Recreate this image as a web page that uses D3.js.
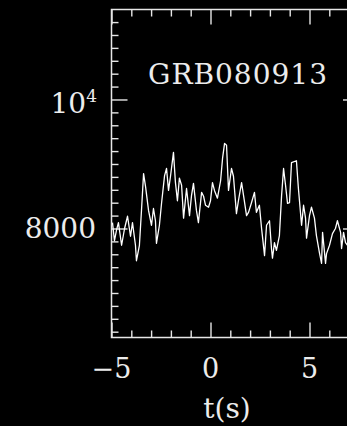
<!DOCTYPE html>
<html>
<head>
<meta charset="utf-8">
<script src="https://cdn.jsdelivr.net/npm/d3@7/dist/d3.min.js"></script>
<style>
  html, body { margin: 0; padding: 0; background: #000; }
  svg { display: block; }
  .tick line { stroke: #e6e6e6; stroke-width: 1.4; }
  text { fill: #ececec; font-family: "DejaVu Serif", serif; }
</style>
</head>
<body>
<svg id="chart" width="347" height="426"></svg>
<script>
// light curve
var times = [-4.95, -4.85, -4.75, -4.65, -4.49, -4.34, -4.19, -4.04, -3.94, -3.79,
  -3.74, -3.59, -3.48, -3.38, -3.28, -3.13, -2.98, -2.88, -2.78, -2.73,
  -2.58, -2.47, -2.32, -2.22, -2.12, -2.02, -1.87, -1.77, -1.67, -1.57,
  -1.46, -1.36, -1.21, -1.06, -0.96, -0.86, -0.71, -0.61, -0.45, -0.35,
  -0.25, -0.10, 0.00, 0.10, 0.20, 0.35, 0.51, 0.61, 0.71, 0.81,
  0.91, 1.06, 1.16, 1.31, 1.41, 1.57, 1.67, 1.82, 1.92, 2.07,
  2.22, 2.32, 2.47, 2.58, 2.73, 2.83, 2.98, 3.08, 3.13, 3.23,
  3.33, 3.48, 3.59, 3.69, 3.79, 3.89, 3.99, 4.09, 4.34, 4.44,
  4.60, 4.70, 4.80, 4.85, 5.00, 5.10, 5.25, 5.35, 5.51, 5.61,
  5.66, 5.81, 5.86, 6.01, 6.16, 6.31, 6.41, 6.57, 6.62, 6.72,
  6.82, 6.92];
var counts = [8090, 7810, 7970, 8090, 7740, 8000, 8190, 7880, 8090, 7740,
  7500, 7740, 8310, 8850, 8650, 8280, 8050, 8310, 8120, 7770,
  8050, 8400, 8820, 8930, 8590, 8810, 9180, 8710, 8430, 8780,
  8670, 8160, 8620, 8200, 8510, 8700, 8280, 8090, 8560, 8500,
  8360, 8330, 8430, 8710, 8590, 8470, 8740, 9090, 9320, 9290,
  8590, 8930, 8810, 8230, 8430, 8710, 8510, 8200, 8250, 8400,
  8560, 8250, 8360, 8000, 7580, 8050, 8120, 7690, 7540, 7780,
  7660, 7890, 8510, 8930, 8670, 8390, 8400, 9020, 9050, 8620,
  8050, 8360, 8160, 7850, 8200, 8330, 8160, 7890, 7610, 7460,
  7940, 7460, 7610, 7740, 7920, 8000, 8120, 7940, 7690, 7940,
  7780, 7740];

var xMajor = [-5, 0, 5];
var xLabels = ['\u22125', '0', '5'];
var xMinor = [-4, -3, -2, -1, 1, 2, 3, 4, 6, 7];
var yMajor = [8000, 10000];
var yMinor = [6400, 6600, 6800, 7000, 7200, 7400, 7600, 7800, 8200, 8400, 8600,
  8800, 9000, 9200, 9400, 9600, 9800, 10200, 10400, 10600, 10800, 11000, 11200];
var title = 'GRB080913';

var svg = d3.select('#chart');
var x = d3.scaleLinear().domain([-5, 7.5]).range([111.5, 359]);
var y = d3.scaleLinear().domain([6310, 11395]).range([337.5, 9.5]);

var plotL = x.range()[0], plotR = x.range()[1];
var plotT = y.range()[1], plotB = y.range()[0];

svg.append('rect').attr('width', 347).attr('height', 426).attr('fill', '#000');

// tick marks on all four sides, pointing inwards
function ticks(axisFn, scale, vals, size, tr) {
  var g = svg.append('g').attr('transform', tr)
    .call(axisFn(scale).tickValues(vals).tickSize(-size).tickFormat(''));
  g.select('.domain').remove();
}
ticks(d3.axisBottom, x, xMinor, 7, 'translate(0,' + plotB + ')');
ticks(d3.axisBottom, x, xMajor, 15, 'translate(0,' + plotB + ')');
ticks(d3.axisTop, x, xMinor, 7, 'translate(0,' + plotT + ')');
ticks(d3.axisTop, x, xMajor, 15, 'translate(0,' + plotT + ')');
ticks(d3.axisLeft, y, yMinor, 7, 'translate(' + plotL + ',0)');
ticks(d3.axisLeft, y, yMajor, 16, 'translate(' + plotL + ',0)');
ticks(d3.axisRight, y, yMinor, 7, 'translate(' + plotR + ',0)');
ticks(d3.axisRight, y, yMajor, 16, 'translate(' + plotR + ',0)');

// frame
svg.append('rect')
  .attr('x', plotL).attr('y', plotT)
  .attr('width', plotR - plotL).attr('height', plotB - plotT)
  .attr('fill', 'none').attr('stroke', '#e6e6e6').attr('stroke-width', 1.5);

// data
var line = d3.line()
  .x(function(d, i) { return x(times[i]); })
  .y(function(d) { return y(d); });

svg.append('path')
  .datum(counts)
  .attr('d', line)
  .attr('fill', 'none')
  .attr('stroke', '#fff')
  .attr('stroke-width', 1.3)
  .attr('stroke-linejoin', 'round');

// x labels
svg.selectAll('.xlab').data(xMajor).enter().append('text')
  .attr('class', 'xlab')
  .attr('x', function(d) { return x(d); })
  .attr('y', 378)
  .attr('text-anchor', 'middle')
  .attr('font-size', 27)
  .text(function(d, i) { return xLabels[i]; });

svg.append('text')
  .attr('x', 227).attr('y', 418)
  .attr('text-anchor', 'middle')
  .attr('font-size', 28)
  .text('t(s)');

// y labels
var lab4 = svg.append('text')
  .attr('x', 97).attr('y', y(10000) + 14)
  .attr('text-anchor', 'end')
  .attr('font-size', 28);
lab4.append('tspan').text('10');
lab4.append('tspan').attr('font-size', 17).attr('dy', -11).text('4');

svg.append('text')
  .attr('x', 96).attr('y', y(8000) + 10)
  .attr('text-anchor', 'end')
  .attr('font-size', 28)
  .text('8000');

// title
svg.append('text')
  .attr('x', 238).attr('y', 84)
  .attr('text-anchor', 'middle')
  .attr('font-size', 28)
  .attr('letter-spacing', 1)
  .text(title);
</script>
</body>
</html>
